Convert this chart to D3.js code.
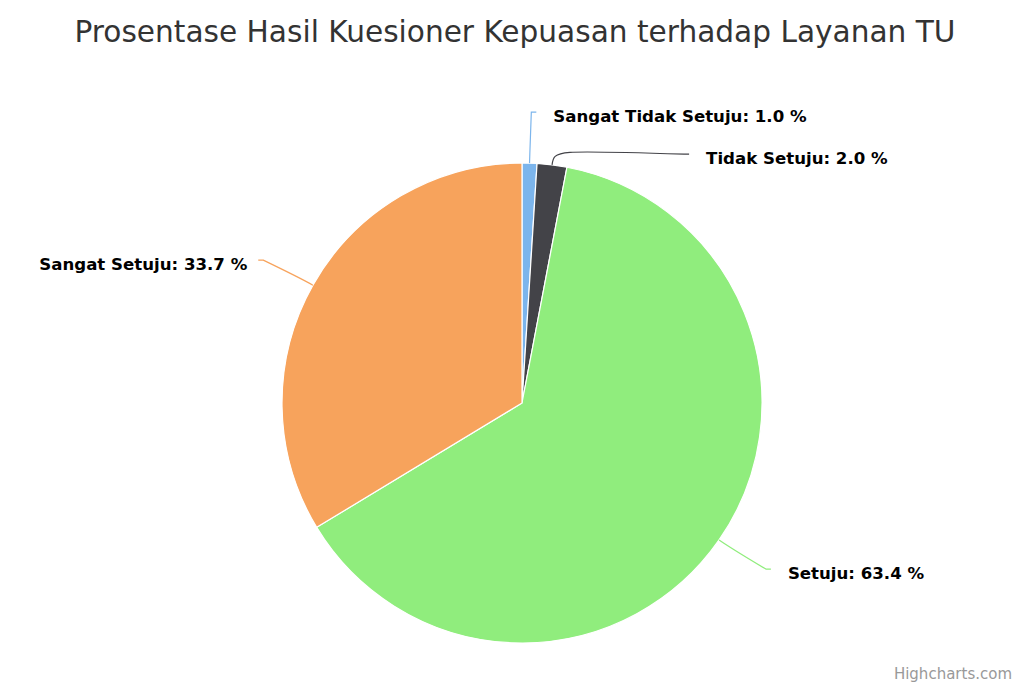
<!DOCTYPE html>
<html>
<head>
<meta charset="utf-8">
<script src="https://cdn.jsdelivr.net/npm/d3@7"></script>
<style>
  body { margin: 0; background: #fff; }
  svg { display: block; }
</style>
</head>
<body>
<div id="chart"></div>
<script>
// data
var categories = ["Sangat Tidak Setuju", "Tidak Setuju", "Setuju", "Sangat Setuju"];
var percents = [1.0, 2.0, 63.4, 33.7];
var colors = ["#7cb5ec", "#434348", "#90ed7d", "#f7a35c"];
var chartTitle = "Prosentase Hasil Kuesioner Kepuasan terhadap Layanan TU";

var width = 1030, height = 687;
var cx = 522, cy = 403, r = 240;
var labelR = 297;   // horizontal radius of the labels
var labelRy = 291;  // vertical radius of the labels
var breakR = 255;   // where the connector bends

var svg = d3.select("#chart").append("svg")
    .attr("width", width)
    .attr("height", height);

svg.append("text")
    .attr("x", 515)
    .attr("y", 42)
    .attr("text-anchor", "middle")
    .style("font-family", "'DejaVu Sans', sans-serif")
    .style("font-size", "29.6px")
    .style("fill", "#333333")
    .text(chartTitle);

var pieData = d3.pie().sort(null).value(function(d) { return d; })(percents);
var arc = d3.arc().innerRadius(0).outerRadius(r);

var g = svg.append("g").attr("transform", "translate(" + cx + "," + cy + ")");

g.selectAll("path.slice")
    .data(pieData)
    .enter()
    .append("path")
    .attr("class", "slice")
    .attr("d", arc)
    .attr("fill", function(d, i) { return colors[i]; })
    .attr("stroke", "#ffffff")
    .attr("stroke-width", 1.2)
    .attr("stroke-linejoin", "round");

// label layout - y from angle, push apart on each side, x from the circle
var labels = pieData.map(function(d, i) {
    var a = (d.startAngle + d.endAngle) / 2;
    return {
        i: i,
        a: a,
        right: Math.sin(a) >= 0,
        y: -labelRy * Math.cos(a),
        x: labelR * Math.sin(a),
        moved: false
    };
});

[true, false].forEach(function(side) {
    var list = labels.filter(function(l) { return l.right === side; })
        .sort(function(p, q) { return p.y - q.y; });
    for (var k = 1; k < list.length; k++) {
        if (list[k].y < list[k - 1].y + 42) {
            list[k].y = list[k - 1].y + 42;
            list[k].moved = true;
        }
    }
});

labels.forEach(function(l) {
    if (l.moved) {
        var dx = Math.sqrt(Math.max(0, labelR * labelR - l.y * l.y));
        l.x = l.right ? dx : -dx;
    }
    l.x += l.right ? 5 : -5;
});

g.selectAll("path.connector")
    .data(labels)
    .enter()
    .append("path")
    .attr("class", "connector")
    .attr("fill", "none")
    .attr("stroke", function(l) { return colors[l.i]; })
    .attr("stroke-width", 1.2)
    .attr("d", function(l) {
        var tx = r * Math.sin(l.a), ty = -r * Math.cos(l.a);
        var bx = breakR * Math.sin(l.a), by = -breakR * Math.cos(l.a);
        var dir = l.right ? -1 : 1;
        return "M" + l.x + "," + l.y +
            "L" + (l.x + dir * 5) + "," + l.y +
            "C" + bx + "," + by + " " + bx + "," + by + " " + tx + "," + ty;
    });

g.selectAll("text.lbl")
    .data(labels)
    .enter()
    .append("text")
    .attr("class", "lbl")
    .attr("x", function(l) { return l.right ? l.x + 17 : l.x - 11; })
    .attr("y", function(l) { return l.y + 10; })
    .attr("text-anchor", function(l) { return l.right ? "start" : "end"; })
    .style("font-family", "'DejaVu Sans', sans-serif")
    .style("font-weight", "bold")
    .style("font-size", "16.6px")
    .style("fill", "#000000")
    .text(function(l) { return categories[l.i] + ": " + percents[l.i].toFixed(1) + " %"; });

svg.append("text")
    .attr("x", 1012)
    .attr("y", 679)
    .attr("text-anchor", "end")
    .style("font-family", "'DejaVu Sans', sans-serif")
    .style("font-size", "15px")
    .style("fill", "#999999")
    .text("Highcharts.com");
</script>
</body>
</html>
